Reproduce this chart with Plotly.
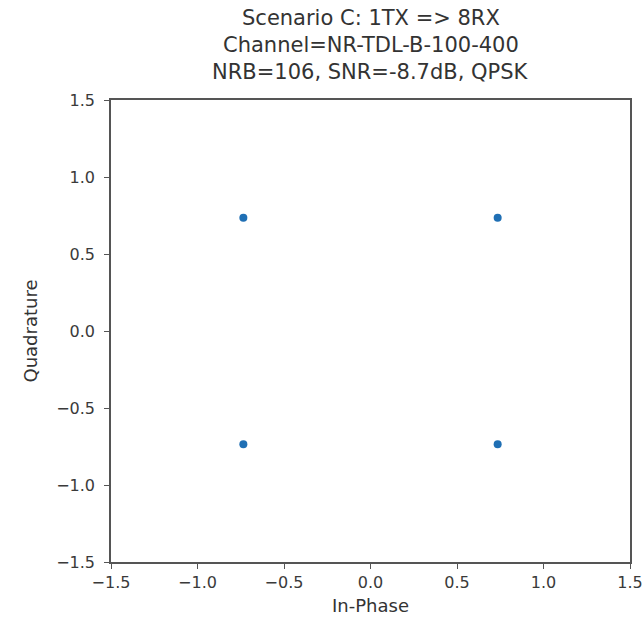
import plotly.graph_objects as go

in_phase = [-0.735, 0.735, -0.735, 0.735]
quadrature = [0.735, 0.735, -0.735, -0.735]
tick_vals = [-1.5, -1.0, -0.5, 0.0, 0.5, 1.0, 1.5]
tick_text = ["\u22121.5", "\u22121.0", "\u22120.5", "0.0", "0.5", "1.0", "1.5"]
title_lines = ["Scenario C: 1TX => 8RX", "Channel=NR-TDL-B-100-400", "NRB=106, SNR=-8.7dB, QPSK"]

W, H = 643, 623
L, R, T, B = 111, 13, 100, 61
ph = H - T - B

fig = go.Figure()
fig.add_trace(go.Scatter(x=in_phase, y=quadrature, mode="markers",
                         marker=dict(color="#1f6fb4", size=8, line=dict(width=0)),
                         showlegend=False))

font = dict(family="DejaVu Sans", color="#333333")
axis_common = dict(range=[-1.5, 1.5], tickvals=tick_vals, ticktext=tick_text,
                   showgrid=False, zeroline=False, showline=True, linecolor="#555555",
                   linewidth=1.5, mirror=True, ticks="outside", ticklen=5, tickwidth=1.2,
                   tickcolor="#555555", automargin=False,
                   tickfont=dict(size=16, family="DejaVu Sans", color="#3a3a3a"))
fig.update_xaxes(**axis_common, title=dict(text="In-Phase", font=dict(size=18, color="#333333"), standoff=8))
fig.update_yaxes(**axis_common, ticklabelstandoff=6,
                 title=dict(text="Quadrature", font=dict(size=18, color="#333333"), standoff=14))

offsets = [82, 55, 28]
for txt, off in zip(title_lines, offsets):
    fig.add_annotation(text=txt, xref="paper", yref="paper", x=0.5, y=1 + off / ph,
                       showarrow=False, xanchor="center", yanchor="middle",
                       font=dict(size=21, family="DejaVu Sans", color="#333333"))

fig.update_layout(width=W, height=H, margin=dict(l=L, r=R, t=T, b=B),
                  plot_bgcolor="white", paper_bgcolor="white", font=font)
fig.write_html("out.html")
